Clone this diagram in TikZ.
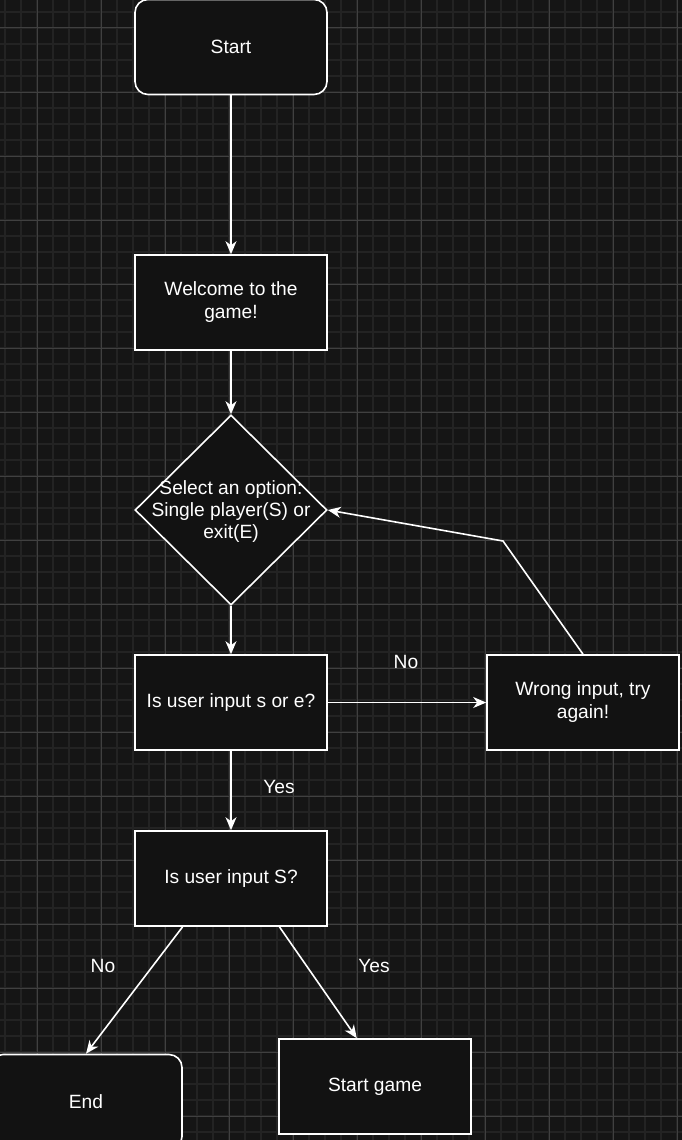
\documentclass[tikz,border=0pt]{standalone}
\usepackage{fontspec}
\setmainfont{Liberation Sans}
\usetikzlibrary{shapes.geometric,arrows.meta,calc}
\definecolor{bgc}{HTML}{151515}
\definecolor{minorc}{HTML}{232323}
\definecolor{majorc}{HTML}{404040}
\definecolor{fillc}{HTML}{121212}
\tikzset{
  minorgrid/.style={draw=minorc,line width=1.5pt},
  majorgrid/.style={draw=majorc,line width=1pt},
  box/.style={draw=white,fill=fillc,line width=1.6pt,minimum width=192pt,minimum height=95pt,inner sep=0pt,text=white,align=center,font=\fontsize{19.2}{23}\selectfont},
  rbox/.style={box,rounded corners=13pt},
  dia/.style={draw=white,fill=fillc,line width=1.6pt,diamond,minimum width=192pt,minimum height=190pt,inner sep=0pt},
  txt/.style={text=white,align=center,font=\fontsize{19.2}{22}\selectfont,inner sep=0pt},
  conn/.style={draw=white,line width=1.6pt,-{Stealth[length=13pt,width=11pt,inset=4pt]}},
  lbl/.style={text=white,font=\fontsize{19.2}{22}\selectfont,inner sep=0pt}
}
\begin{document}
\begin{tikzpicture}[x=1pt,y=-1pt]
\useasboundingbox (0,0) rectangle (682,1140);
\clip (0,0) rectangle (682,1140);
\fill[bgc] (0,0) rectangle (682,1140);
\foreach \i in {0,...,42} {\draw[minorgrid] ({5+16*\i},0) -- ({5+16*\i},1140);}
\foreach \j in {0,...,71} {\draw[minorgrid] (0,{12+16*\j}) -- (682,{12+16*\j});}
\foreach \i in {0,...,10} {\draw[majorgrid] ({37+64*\i},0) -- ({37+64*\i},1140);}
\foreach \j in {0,...,17} {\draw[majorgrid] (0,{28+64*\j}) -- (682,{28+64*\j});}

\node[rbox] (start) at (231,47) {Start};
\node[box] (welcome) at (231,302.5) {\raisebox{-1.5pt}{\begin{tabular}{@{}c@{}}Welcome to the\\game!\end{tabular}}};
\node[dia] (select) at (231,510) {};
\node[txt] (selecttxt) at (231,512) {Select an option:\\Single player(S) or\\exit(E)};
\node[box] (check) at (231,702.5) {\raisebox{-1.5pt}{Is user input s or e?}};
\node[box] (wrong) at (583,702.5) {\raisebox{-1.5pt}{\begin{tabular}{@{}c@{}}Wrong input, try\\again!\end{tabular}}};
\node[box] (isS) at (231,878.5) {\raisebox{-1.5pt}{Is user input S?}};
\node[rbox] (end) at (86,1102) {\raisebox{-1pt}{End}};
\node[box] (game) at (375,1086.5) {\raisebox{-1.5pt}{Start game}};

\coordinate (bend) at (503,541);
\coordinate (sl) at ($(isS.south west)!0.25!(isS.south east)$);
\coordinate (sr) at ($(isS.south west)!0.75!(isS.south east)$);
\coordinate (gt) at ($(game.north west)!0.406!(game.north east)$);

\draw[conn] (start) -- (welcome);
\draw[conn] (welcome) -- (select);
\draw[conn] (select) -- (check);
\draw[conn] (check) -- (wrong);
\draw[conn] (wrong.north) -- (bend) -- (select.east);
\draw[conn] (check) -- (isS);
\draw[conn] (sl) -- (end.north);
\draw[conn] (sr) -- (gt);

\node[lbl] (no1) at (406,662) {No};
\node[lbl] (yes1) at (279,787) {Yes};
\node[lbl] (no2) at (103,966) {No};
\node[lbl] (yes2) at (374,966) {Yes};
\end{tikzpicture}
\end{document}
